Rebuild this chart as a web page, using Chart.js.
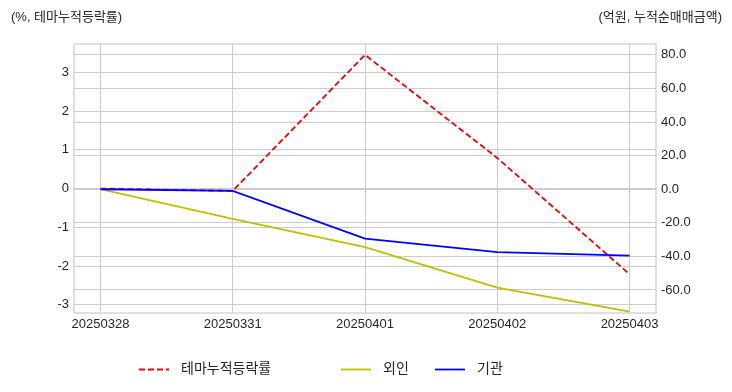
<!DOCTYPE html>
<html>
<head>
<meta charset="utf-8">
<script src="https://cdn.jsdelivr.net/npm/chart.js@4.4.1/dist/chart.umd.min.js"></script>
<style>
  html, body { margin: 0; padding: 0; background: #fff; }
  canvas { display: block; }
</style>
</head>
<body>
<canvas id="chart" width="732" height="392"></canvas>
<script>
// data
const dates = ['20250328', '20250331', '20250401', '20250402', '20250403']
const themeRate = [0, -0.06, 3.45, 0.79, -2.21]      // %, left axis
const foreignNet = [0, -17.7, -34.5, -58.6, -72.9]  // 억원, right axis
const instNet = [0, -1.0, -29.4, -37.5, -39.5]      // 억원, right axis
const leftTicks = [-3, -2, -1, 0, 1, 2, 3]
const rightTicks = [-60, -40, -20, 0, 20, 40, 60, 80]

const FONT = "'Liberation Sans', 'Noto Sans CJK KR', sans-serif"
const TXT = '#262626'
const GRID = '#cccccc'

const toPoints = arr => arr.map((v, i) => ({ x: i, y: v }))

const frameAndText = {
    id: 'frameAndText',
    afterDraw(chart) {
        const { ctx, chartArea: a } = chart
        ctx.save()
        ctx.strokeStyle = GRID
        ctx.lineWidth = 1.2
        ctx.strokeRect(a.left, a.top, a.right - a.left, a.bottom - a.top)

        ctx.fillStyle = TXT
        ctx.font = '13px ' + FONT
        ctx.textBaseline = 'middle'
        ctx.textAlign = 'left'
        ctx.fillText('(%, 테마누적등락률)', 11, 17)
        ctx.textAlign = 'right'
        ctx.fillText('(억원, 누적순매매금액)', 722, 17)

        // legend
        const items = [
            { ds: 0, x: 139 },
            { ds: 1, x: 341 },
            { ds: 2, x: 435 }
        ]
        const y = 369.5
        ctx.font = '14px ' + FONT
        ctx.textAlign = 'left'
        items.forEach(it => {
            const d = chart.data.datasets[it.ds]
            ctx.strokeStyle = d.borderColor
            ctx.lineWidth = d.borderWidth
            ctx.setLineDash(d.borderDash || [])
            ctx.beginPath()
            ctx.moveTo(it.x, y)
            ctx.lineTo(it.x + 30, y)
            ctx.stroke()
            ctx.setLineDash([])
            ctx.fillStyle = TXT
            ctx.fillText(d.label, it.x + 42, y)
        })
        ctx.restore()
    }
}

new Chart(document.getElementById('chart'), {
    type: 'line',
    data: {
        datasets: [
            {
                label: '테마누적등락률',
                data: toPoints(themeRate),
                yAxisID: 'y',
                borderColor: '#f00000',
                borderWidth: 1.8,
                borderDash: [6, 3],
                pointRadius: 0,
                order: 3
            },
            {
                label: '외인',
                data: toPoints(foreignNet),
                yAxisID: 'y1',
                borderColor: '#bfbf00',
                borderWidth: 1.8,
                pointRadius: 0,
                order: 2
            },
            {
                label: '기관',
                data: toPoints(instNet),
                yAxisID: 'y1',
                borderColor: '#0000ff',
                borderWidth: 1.8,
                pointRadius: 0,
                order: 1
            }
        ]
    },
    options: {
        responsive: false,
        animation: false,
        layout: { padding: { top: 44, left: 0, right: 0, bottom: 0 } },
        plugins: {
            legend: { display: false },
            title: { display: false },
            tooltip: { enabled: false }
        },
        scales: {
            x: {
                type: 'linear',
                min: -0.2,
                max: 4.2,
                afterBuildTicks: s => { s.ticks = dates.map((d, i) => ({ value: i })) },
                afterFit: s => { s.height = 79 },
                ticks: {
                    callback: v => dates[v],
                    color: TXT,
                    font: { family: FONT, size: 13 },
                    padding: 4,
                    maxRotation: 0,
                    autoSkip: false
                },
                grid: { color: GRID, lineWidth: 1, drawTicks: false },
                border: { display: false }
            },
            y: {
                position: 'left',
                min: -3.21,
                max: 3.73,
                afterBuildTicks: s => { s.ticks = leftTicks.map(v => ({ value: v })) },
                afterFit: s => { s.width = 74 },
                ticks: {
                    callback: v => String(v),
                    color: TXT,
                    font: { family: FONT, size: 13 },
                    padding: 5
                },
                grid: { color: GRID, lineWidth: 1, drawTicks: false },
                border: { display: false }
            },
            y1: {
                position: 'right',
                min: -73.7,
                max: 86.5,
                afterBuildTicks: s => { s.ticks = rightTicks.map(v => ({ value: v })) },
                afterFit: s => { s.width = 76 },
                ticks: {
                    callback: v => v.toFixed(1),
                    color: TXT,
                    font: { family: FONT, size: 13 },
                    padding: 5
                },
                grid: { color: GRID, lineWidth: 1, drawTicks: false, drawOnChartArea: true },
                border: { display: false }
            }
        }
    },
    plugins: [frameAndText]
})
</script>
</body>
</html>
